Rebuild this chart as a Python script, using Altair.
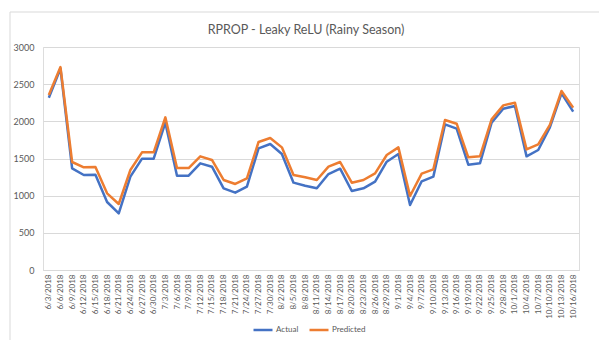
import altair as alt
import pandas as pd

dates = ["6/3/2018","6/6/2018","6/9/2018","6/12/2018","6/15/2018","6/18/2018","6/21/2018","6/24/2018",
         "6/27/2018","6/30/2018","7/3/2018","7/6/2018","7/9/2018","7/12/2018","7/15/2018","7/18/2018",
         "7/21/2018","7/24/2018","7/27/2018","7/30/2018","8/2/2018","8/5/2018","8/8/2018","8/11/2018",
         "8/14/2018","8/17/2018","8/20/2018","8/23/2018","8/26/2018","8/29/2018","9/1/2018","9/4/2018",
         "9/7/2018","9/10/2018","9/13/2018","9/16/2018","9/19/2018","9/22/2018","9/25/2018","9/28/2018",
         "10/1/2018","10/4/2018","10/7/2018","10/10/2018","10/13/2018","10/16/2018"]

actual = [2318, 2710, 1368, 1278, 1282, 915, 762, 1256, 1498, 1498, 1982, 1269, 1269, 1435, 1390, 1099,
          1040, 1121, 1637, 1695, 1560, 1175, 1134, 1099, 1291, 1363, 1063, 1099, 1188, 1457, 1560, 874,
          1193, 1256, 1959, 1901, 1417, 1435, 1982, 2170, 2206, 1529, 1614, 1919, 2376, 2130]

predicted = [2354, 2730, 1453, 1381, 1386, 1031, 888, 1345, 1583, 1583, 2054, 1372, 1372, 1529, 1480, 1211,
             1157, 1233, 1722, 1776, 1650, 1278, 1247, 1211, 1390, 1453, 1175, 1211, 1300, 1547, 1650, 995,
             1296, 1354, 2018, 1968, 1516, 1529, 2027, 2215, 2251, 1623, 1690, 1951, 2408, 2184]

series_names = ["Actual", "Predicted"]
series_colors = ["#4472C4", "#ED7D31"]
title_text = "RPROP - Leaky ReLU (Rainy Season)"

df = pd.concat([
    pd.DataFrame({"date": dates, "value": actual, "series": "Actual", "order": 0}),
    pd.DataFrame({"date": dates, "value": predicted, "series": "Predicted", "order": 1}),
])

font = "Lato"
grey = "#595959"

lines = alt.Chart(df).mark_line(strokeWidth=2.5, strokeJoin="round").encode(
    x=alt.X("date:O", sort=dates, title=None,
            axis=alt.Axis(labelAngle=-90, labelFontSize=8, labelColor=grey, labelFont=font,
                          ticks=False, domainColor="#d9d9d9", labelPadding=4, grid=False)),
    y=alt.Y("value:Q", title=None, scale=alt.Scale(domain=[0, 3000], nice=False),
            axis=alt.Axis(values=[0, 500, 1000, 1500, 2000, 2500, 3000], format="d",
                          labelFontSize=9, labelColor=grey, labelFont=font, ticks=False,
                          domain=False, gridColor="#d9d9d9", labelPadding=9)),
    color=alt.Color("series:N", scale=alt.Scale(domain=series_names, range=series_colors),
                    legend=alt.Legend(title=None, orient="none", legendX=209, legendY=272,
                                      direction="horizontal", symbolType="stroke",
                                      symbolStrokeWidth=2.5, symbolSize=361, labelFontSize=8,
                                      labelColor=grey, labelFont=font, columnPadding=5,
                                      labelOffset=2)),
    order="order:Q",
)

frame = pd.DataFrame({"a": [0]})

border = alt.Chart(frame).mark_rect(
    fill="transparent", stroke="#d9d9d9", strokeWidth=1, clip=False
).encode(x=alt.value(-33), x2=alt.value(559), y=alt.value(-35), y2=alt.value(296))

title = alt.Chart(frame).mark_text(
    text=title_text, font=font, fontSize=12.5, color=grey, align="center", baseline="middle"
).encode(x=alt.value(263), y=alt.value(-17))

chart = alt.layer(border, title, lines).properties(
    width=536, height=223,
    autosize=alt.AutoSizeParams(type="none"),
    padding={"left": 35, "top": 39, "right": 20, "bottom": 70},
).configure_view(stroke=None).configure(background="white")

chart.save("out.html", embed_options={"renderer": "svg", "actions": False})
